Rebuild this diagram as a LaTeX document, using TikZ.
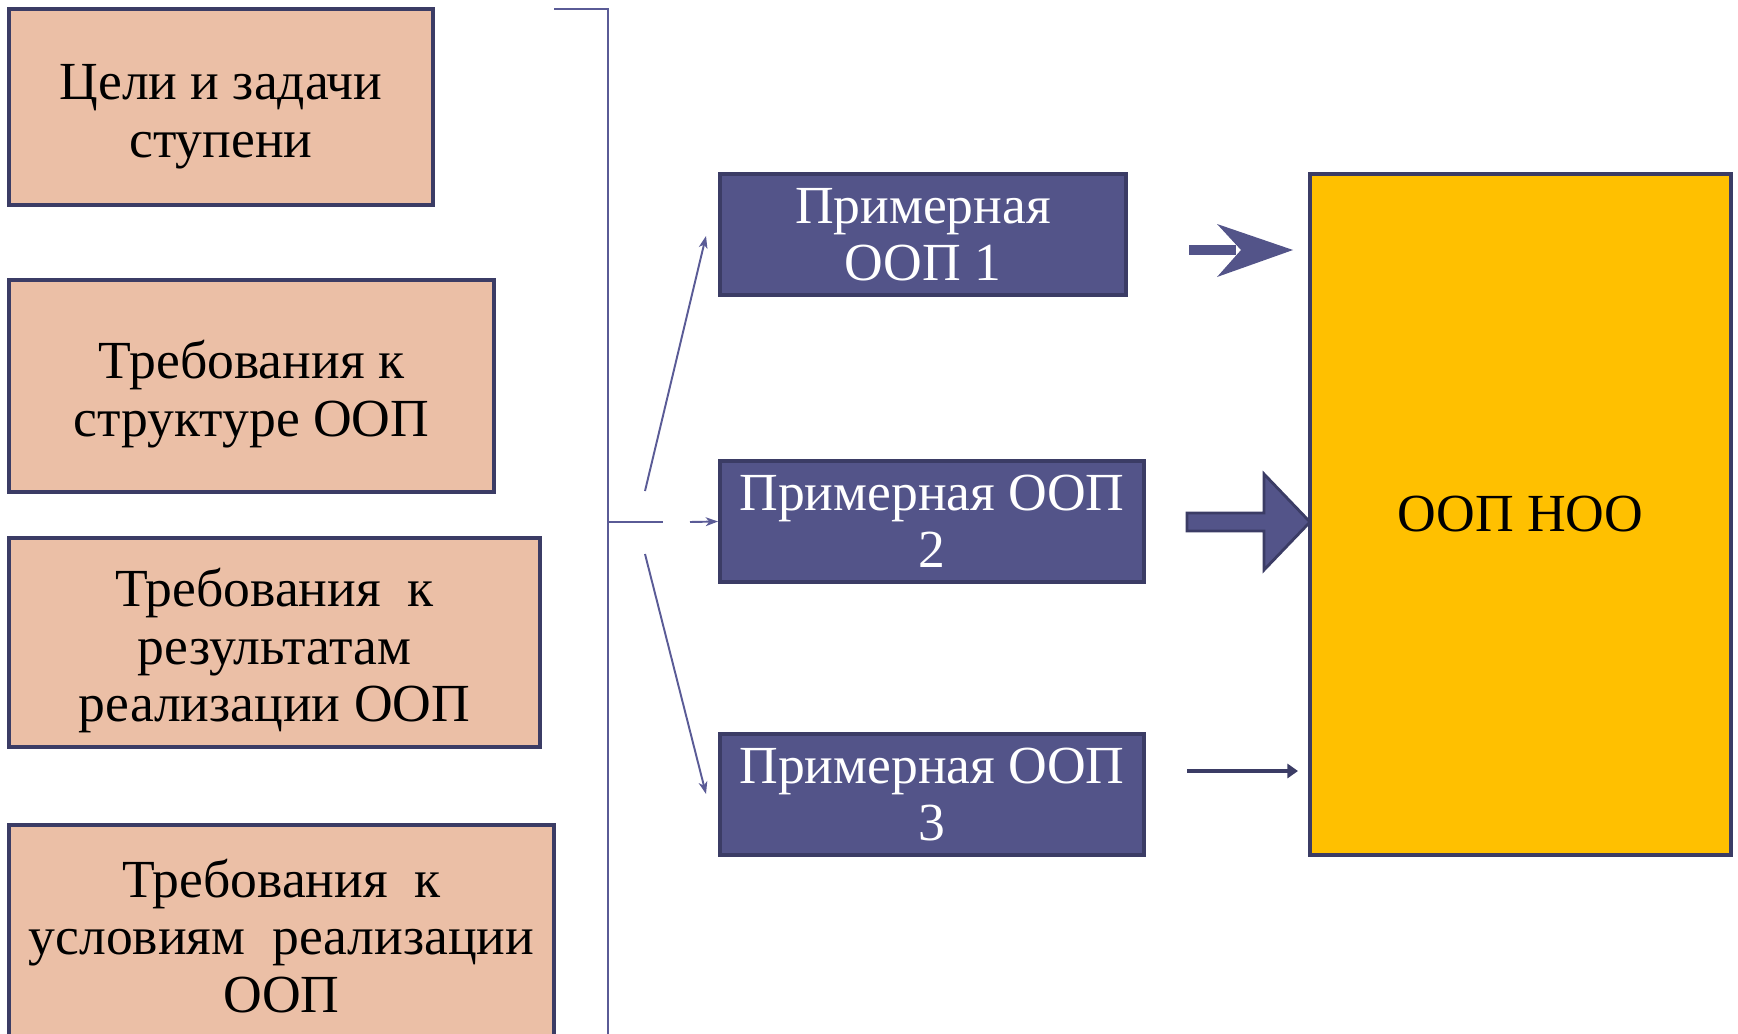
\documentclass[tikz,border=0pt]{standalone}
\usepackage{fontspec}
\setmainfont{Liberation Serif}
\usetikzlibrary{arrows.meta,calc}
\definecolor{peach}{HTML}{EBBFA6}
\definecolor{navy}{HTML}{3B3C65}
\definecolor{violetfill}{HTML}{535489}
\definecolor{gold}{HTML}{FFC000}
\definecolor{thinline}{HTML}{5A5B96}
\def\u{0.02cm}
\newcommand{\lowstrut}{\rule{0pt}{31pt}}
\begin{document}
\begin{tikzpicture}[x=0.02cm,y=-0.02cm,
  txt/.style={font=\fontsize{30.5}{32.5}\selectfont},
  reqbox/.style={txt, draw=navy, fill=peach, line width=2.2pt, align=center, inner sep=0pt},
  oopbox/.style={txt, draw=navy, fill=violetfill, line width=2.2pt, align=center, text=white, inner sep=0pt},
  mainbox/.style={txt, draw=navy, fill=gold, line width=1.8pt, align=center, inner sep=0pt},
  thinconn/.style={draw=thinline, line width=1.1pt},
  thinarrow/.style={thinconn, -{Stealth[length=7pt,width=5pt,inset=2pt]}},
  blockarrow/.style={fill=violetfill},
]
\useasboundingbox (0,0) rectangle (1738,1034);
\clip (0,0) rectangle (1738,1034);

% left requirement boxes
\node[reqbox, minimum width=424*\u, minimum height=196*\u] (goal) at (221,107) {\lowstrut Цели и задачи\\ступени};
\node[reqbox, minimum width=485*\u, minimum height=212*\u] (struct) at (251.5,386) {\lowstrut Требования к\\структуре ООП};
\node[reqbox, minimum width=531*\u, minimum height=209*\u] (result) at (274.5,642.5) {\lowstrut Требования\ \ к\\результатам\\реализации ООП};
\node[reqbox, minimum width=545*\u, minimum height=222*\u] (cond) at (281.5,936) {Требования\ \ к\\условиям\ \ реализации\\ООП};

% sample programmes
\node[oopbox, minimum width=406*\u, minimum height=121*\u] (p1) at (923,234.5) {Примерная\\ООП 1};
\node[oopbox, minimum width=424*\u, minimum height=121*\u] (p2) at (932,521.5) {Примерная ООП\\2};
\node[oopbox, minimum width=424*\u, minimum height=121*\u] (p3) at (932,794.5) {Примерная ООП\\3};

% main box
\node[mainbox, minimum width=421*\u, minimum height=681*\u] (noo) at (1520.5,514.5) {ООП НОО};

% bracket
\coordinate (bt) at (554,9);
\coordinate (bc) at (608,9);
\coordinate (bb) at (608,1040);
\draw[thinconn] (bt) -- (bc) -- (bb);
\coordinate (bm) at (608,522);
\coordinate (g1) at (663,522);
\coordinate (g2) at (690,522);
\draw[thinconn] (bm) -- (g1);
\draw[thinarrow] (g2) -- (p2.west);
\coordinate (u0) at (645,491);
\coordinate (u1) at (706,236);
\draw[thinarrow] (u0) -- (u1);
\coordinate (d0) at (645,554);
\coordinate (d1) at (706,794);
\draw[thinarrow] (d0) -- (d1);

% arrow 1
\fill[blockarrow] (1189,245) rectangle (1236,255);
\fill[blockarrow] (1217,224) -- (1293,250) -- (1217,277) -- (1241,250) -- cycle;

% arrow 2
\draw[blockarrow, draw=navy, line width=1.6pt, line join=miter]
  (1187,513) -- (1264,513) -- (1264,474) -- (1310,522) -- (1264,570) -- (1264,531) -- (1187,531) -- cycle;

% arrow 3
\draw[navy, line width=2.8pt, -{Triangle[length=6pt,width=8pt]}] (1187,771) -- (1298,771);
\end{tikzpicture}
\end{document}
